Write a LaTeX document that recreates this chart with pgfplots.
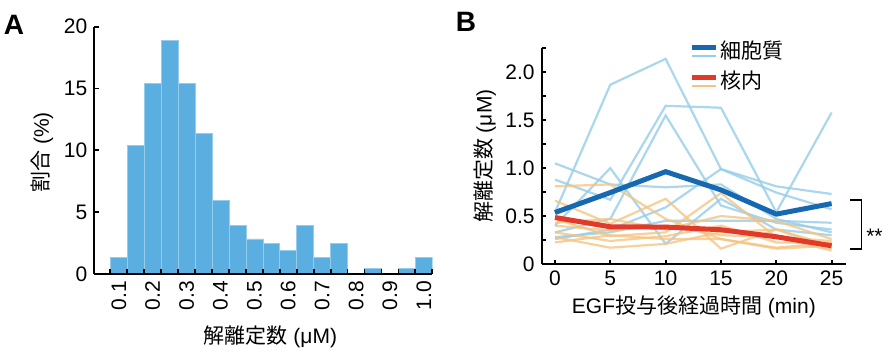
\documentclass[border=0pt]{standalone}
\usepackage{pgfplots}
\pgfplotsset{compat=1.18}
\usepackage{fontspec}
\setmainfont{Liberation Sans}
\newfontfamily\cjk{Noto Sans CJK JP}
\definecolor{barblue}{RGB}{90,175,224}
\definecolor{baredge}{RGB}{150,205,235}
\definecolor{lightb}{RGB}{150,205,232}
\definecolor{lighto}{RGB}{245,196,130}
\definecolor{meanblue}{RGB}{22,104,176}
\definecolor{meanred}{RGB}{226,58,42}
\newcommand{\fs}{\fontsize{10.5}{12}\selectfont}
\begin{document}
\begin{tikzpicture}
\path[use as bounding box] (0,0) rectangle (442.5pt,178pt);
\node[font=\fontsize{14}{16}\selectfont\bfseries] at (7pt,165.5pt) {A};
\node[font=\fontsize{14}{16}\selectfont\bfseries] at (233pt,167pt) {B};
% Panel A
\begin{axis}[
  at={(47.15pt,41pt)}, anchor=south west,
  scale only axis, width=169pt, height=123.65pt,
  axis lines*=left, axis on top,
  axis line style={line width=0.9pt},
  xmin=0.0278, xmax=1.025, ymin=0, ymax=20,
  xtick={0.1,0.2,0.3,0.4,0.5,0.6,0.7,0.8,0.9,1.0},
  xticklabels={0.1,0.2,0.3,0.4,0.5,0.6,0.7,0.8,0.9,1.0},
  minor xtick={0.075,0.125,...,1.03},
  major x tick style={draw=none},
  ytick={0,5,10,15,20},
  tick align=inside, major tick length=2.5pt, minor tick length=2.5pt,
  tick style={line width=0.9pt, black},
  /pgf/number format/assume math mode=true,
  tick label style={font=\fs},
  xticklabel style={rotate=90, anchor=east},
  label style={font=\fs},
  xlabel={{\cjk 解離定数} (μM)},
  ylabel={{\cjk 割合} (\%)},
  xlabel style={at={(axis description cs:0.5,0)}, anchor=center, yshift=-31.5pt, xshift=3.5pt},
  ylabel style={at={(axis description cs:0,0.5)}, anchor=center, yshift=26pt, xshift=-1pt},
]
\addplot[ybar interval, fill=barblue, draw=baredge, line width=0.3pt] coordinates {
(0.075,1.35) (0.125,10.4) (0.175,15.4) (0.225,18.9) (0.275,15.4) (0.325,11.35)
(0.375,5.98) (0.425,3.94) (0.475,2.83) (0.525,2.45) (0.575,1.91) (0.625,3.94)
(0.675,1.35) (0.725,2.45) (0.775,0) (0.825,0.46) (0.875,0) (0.925,0.46) (0.975,1.35) (1.025,1.35)
};
\end{axis}
% Panel B
\begin{axis}[
  at={(270.85pt,46pt)}, anchor=south west,
  scale only axis, width=152.15pt, height=107.85pt,
  axis lines*=left, clip=false,
  axis line style={line width=0.9pt},
  xmin=-1.2, xmax=26.3, ymin=0, ymax=2.25,
  xtick={0,5,10,15,20,25},
  ytick={0,0.5,1,1.5,2},
  yticklabels={0,0.5,1.0,1.5,2.0},
  minor ytick={0.25,0.75,1.25,1.75,2.25},
  tick align=inside, major tick length=2pt, minor tick length=2pt,
  tick style={line width=0.9pt, black},
  /pgf/number format/assume math mode=true,
  tick label style={font=\fs},
  label style={font=\fs},
  xlabel={EGF{\cjk 投与後経過時間} (min)},
  ylabel={{\cjk 解離定数} (μM)},
  xlabel style={at={(axis description cs:0.5,0)}, anchor=center, yshift=-21.5pt},
  ylabel style={at={(axis description cs:0,0.5)}, anchor=center, yshift=28.35pt},
  legend style={at={(axis cs:12.1,2.35)}, anchor=north west, draw=none, fill=none,
    inner sep=0pt, row sep=2.5pt, font=\fs\cjk, nodes={inner sep=1pt}},
  legend cell align=left,
]
\addplot[lightb, line width=1.1pt, opacity=0.8, forget plot] coordinates {(0,0.54)(5,1.87)(10,2.14)(15,0.99)(20,0.745)(25,0.57)};
\addplot[lightb, line width=1.1pt, opacity=0.8, forget plot] coordinates {(0,0.88)(5,0.67)(10,1.65)(15,1.63)(20,0.54)(25,1.58)};
\addplot[lightb, line width=1.1pt, opacity=0.8, forget plot] coordinates {(0,0.33)(5,0.47)(10,1.55)(15,0.61)(20,0.43)(25,0.36)};
\addplot[lightb, line width=1.1pt, opacity=0.8, forget plot] coordinates {(0,1.05)(5,0.83)(10,0.80)(15,0.83)(20,0.47)(25,0.33)};
\addplot[lightb, line width=1.1pt, opacity=0.8, forget plot] coordinates {(0,0.40)(5,1.00)(10,0.21)(15,0.68)(20,0.36)(25,0.30)};
\addplot[lightb, line width=1.1pt, opacity=0.8, forget plot] coordinates {(0,0.28)(5,0.33)(10,0.45)(15,0.45)(20,0.45)(25,0.43)};
\addplot[lightb, line width=1.1pt, opacity=0.8, forget plot] coordinates {(0,0.26)(5,0.36)(10,0.59)(15,0.99)(20,0.81)(25,0.73)};
\addplot[lighto, line width=1.1pt, opacity=0.8, forget plot] coordinates {(0,0.81)(5,0.83)(10,0.47)(15,0.26)(20,0.17)(25,0.22)};
\addplot[lighto, line width=1.1pt, opacity=0.8, forget plot] coordinates {(0,0.66)(5,0.42)(10,0.68)(15,0.16)(20,0.36)(25,0.19)};
\addplot[lighto, line width=1.1pt, opacity=0.8, forget plot] coordinates {(0,0.47)(5,0.29)(10,0.33)(15,0.74)(20,0.28)(25,0.14)};
\addplot[lighto, line width=1.1pt, opacity=0.8, forget plot] coordinates {(0,0.43)(5,0.47)(10,0.36)(15,0.50)(20,0.45)(25,0.26)};
\addplot[lighto, line width=1.1pt, opacity=0.8, forget plot] coordinates {(0,0.33)(5,0.24)(10,0.29)(15,0.40)(20,0.225)(25,0.22)};
\addplot[lighto, line width=1.1pt, opacity=0.8, forget plot] coordinates {(0,0.28)(5,0.17)(10,0.21)(15,0.33)(20,0.36)(25,0.16)};
\addplot[lighto, line width=1.1pt, opacity=0.8, forget plot] coordinates {(0,0.225)(5,0.30)(10,0.26)(15,0.26)(20,0.16)(25,0.19)};
\addplot[lighto, line width=1.1pt, opacity=0.8, forget plot] coordinates {(0,0.40)(5,0.35)(10,0.40)(15,0.30)(20,0.28)(25,0.24)};
\addplot[meanblue, line width=2.5pt, legend image code/.code={
  \draw[line width=2.5pt, meanblue] (0pt,2pt) -- (12pt,2pt);
  \draw[line width=1pt, lightb] (0pt,-2.3pt) -- (12pt,-2.3pt);}]
  coordinates {(0,0.537)(5,0.745)(10,0.963)(15,0.773)(20,0.52)(25,0.63)};
\addlegendentry{細胞質}
\addplot[meanred, line width=2.5pt, legend image code/.code={
  \draw[line width=2.5pt, meanred] (0pt,2pt) -- (12pt,2pt);
  \draw[line width=1pt, lighto] (0pt,-2.3pt) -- (12pt,-2.3pt);}]
  coordinates {(0,0.485)(5,0.388)(10,0.385)(15,0.357)(20,0.284)(25,0.19)};
\addlegendentry{核内}
\draw[line width=0.9pt] (axis cs:26.65,0.667) -- (axis cs:27.7,0.667) -- (axis cs:27.7,0.156) -- (axis cs:26.65,0.156);
\node[anchor=base west, font=\fs, inner sep=0pt] at (axis cs:28.1,0.21) {**};
\end{axis}
\end{tikzpicture}
\end{document}
